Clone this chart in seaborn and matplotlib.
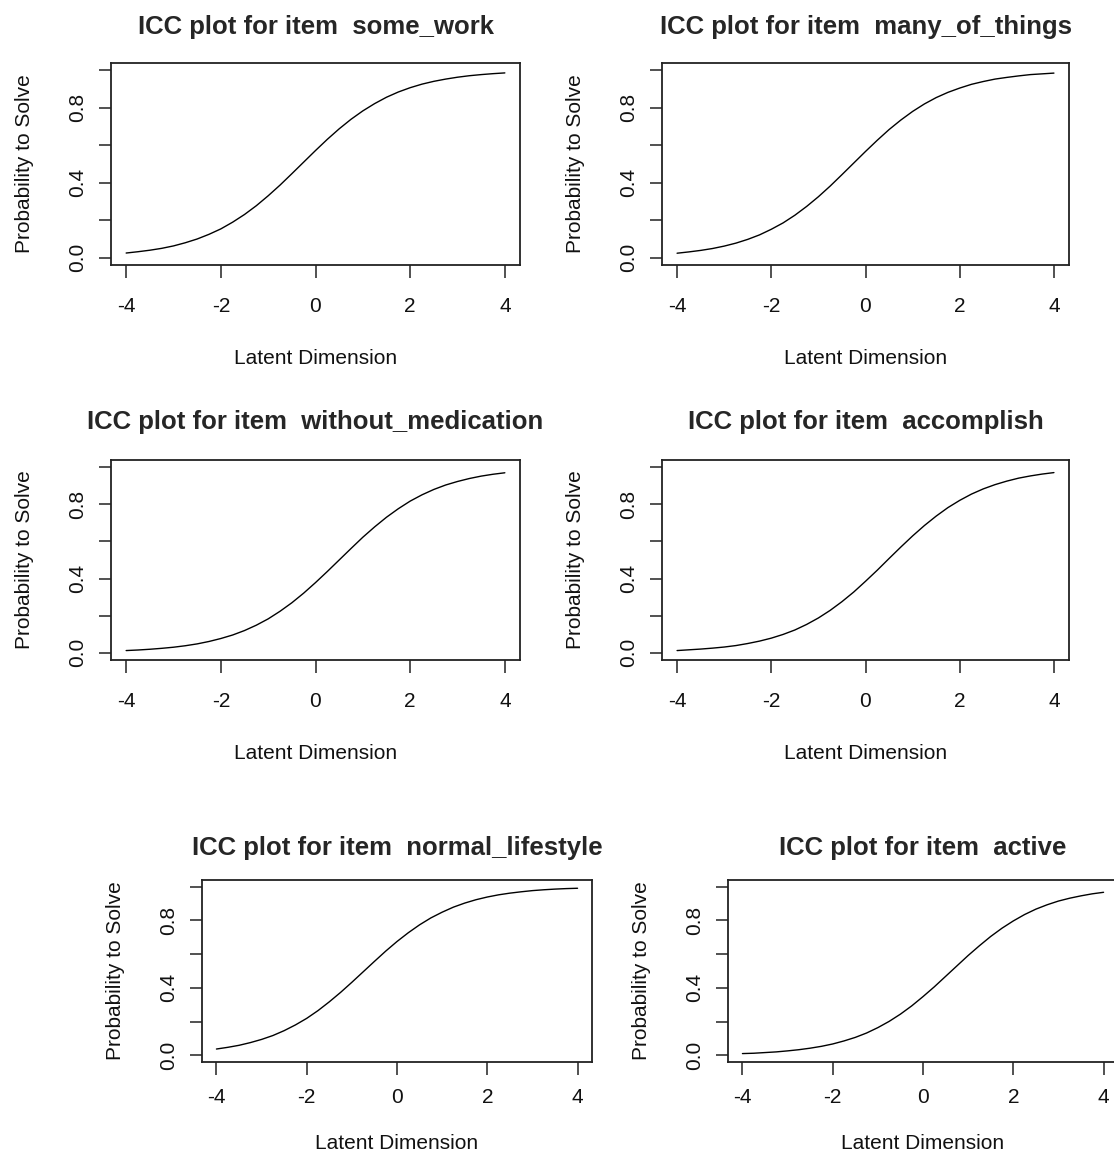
import seaborn as sns
import matplotlib.pyplot as plt

# latent dimension grid and ICC values
theta = [-4.0, -3.75, -3.5, -3.25, -3.0, -2.75, -2.5, -2.25, -2.0, -1.75, -1.5,
         -1.25, -1.0, -0.75, -0.5, -0.25, 0.0, 0.25, 0.5, 0.75, 1.0, 1.25,
         1.5, 1.75, 2.0, 2.25, 2.5, 2.75, 3.0, 3.25, 3.5, 3.75, 4.0]

some_work = [0.024, 0.031, 0.039, 0.049, 0.062, 0.079, 0.099, 0.124, 0.153,
             0.189, 0.230, 0.277, 0.330, 0.387, 0.448, 0.510, 0.572, 0.632,
             0.688, 0.739, 0.784, 0.823, 0.857, 0.885, 0.908, 0.927, 0.942,
             0.954, 0.964, 0.972, 0.978, 0.983, 0.987]
many_of_things = [0.023, 0.030, 0.038, 0.048, 0.061, 0.077, 0.097, 0.121, 0.151,
                  0.185, 0.226, 0.273, 0.325, 0.382, 0.443, 0.505, 0.567, 0.627,
                  0.684, 0.735, 0.781, 0.821, 0.855, 0.883, 0.906, 0.926, 0.941,
                  0.954, 0.963, 0.971, 0.978, 0.982, 0.986]
without_medication = [0.011, 0.014, 0.018, 0.023, 0.029, 0.037, 0.047, 0.060, 0.076,
                      0.095, 0.119, 0.148, 0.182, 0.223, 0.269, 0.321, 0.378, 0.438,
                      0.500, 0.562, 0.623, 0.679, 0.731, 0.777, 0.818, 0.852, 0.881,
                      0.905, 0.924, 0.940, 0.953, 0.963, 0.971]
accomplish = [0.011, 0.015, 0.019, 0.024, 0.030, 0.038, 0.049, 0.062, 0.078,
              0.098, 0.122, 0.152, 0.187, 0.228, 0.275, 0.327, 0.385, 0.445,
              0.508, 0.570, 0.630, 0.686, 0.737, 0.783, 0.822, 0.856, 0.884,
              0.907, 0.926, 0.942, 0.954, 0.964, 0.972]
normal_lifestyle = [0.037, 0.047, 0.059, 0.075, 0.094, 0.117, 0.146, 0.180, 0.219,
                    0.265, 0.317, 0.373, 0.433, 0.495, 0.557, 0.618, 0.675, 0.727,
                    0.774, 0.815, 0.849, 0.879, 0.903, 0.923, 0.939, 0.952, 0.962,
                    0.970, 0.977, 0.982, 0.986, 0.989, 0.991]
active = [0.010, 0.012, 0.016, 0.020, 0.026, 0.033, 0.042, 0.053, 0.067,
          0.085, 0.106, 0.132, 0.164, 0.201, 0.244, 0.293, 0.348, 0.406,
          0.468, 0.530, 0.592, 0.650, 0.705, 0.754, 0.797, 0.835, 0.867,
          0.893, 0.915, 0.932, 0.946, 0.958, 0.967]

item_names = ["some_work", "many_of_things", "without_medication",
              "accomplish", "normal_lifestyle", "active"]
item_values = [some_work, many_of_things, without_medication,
               accomplish, normal_lifestyle, active]

x_ticks = [-4, -2, 0, 2, 4]
y_ticks = [0.0, 0.2, 0.4, 0.6, 0.8, 1.0]
y_ticklabels = ["0.0", "", "0.4", "", "0.8", ""]

sns.set_style("ticks")
plt.rcParams['font.family'] = ['Liberation Sans', 'DejaVu Sans']

W, H = 1114, 1151
fig = plt.figure(figsize=(W / 100, H / 100), dpi=100)

# axes boxes in pixels: left, top, right, bottom
boxes = [(111, 63, 520, 265), (662, 63, 1069, 265),
         (111, 460, 520, 660), (662, 460, 1069, 660),
         (202, 880, 592, 1062), (728, 880, 1118, 1062)]
title_pads = [21, 21, 22, 22, 18, 18]
tick_pads = [14, 14, 14, 14, 9.5, 9.5]
xlabel_pads = [23.5, 23.5, 23.5, 23.5, 19.5, 19.5]

for i, (name, vals) in enumerate(zip(item_names, item_values)):
    l, t, r, b = boxes[i]
    ax = fig.add_axes([l / W, 1 - b / H, (r - l) / W, (b - t) / H])
    sns.lineplot(x=theta, y=vals, ax=ax, color='black', linewidth=1.0)

    ax.set_xlim(-4.32, 4.32)
    ax.set_ylim(-0.04, 1.04)
    ax.set_xticks(x_ticks)
    ax.set_xticklabels([str(v) for v in x_ticks])
    ax.set_yticks(y_ticks)
    ax.set_yticklabels(y_ticklabels)

    for s in ax.spines.values():
        s.set_visible(True)
        s.set_color('#222222')
        s.set_linewidth(1.3)

    ax.tick_params(axis='both', direction='out', length=9, width=1.1,
                   color='#222222', labelsize=15, labelcolor='#111111')
    ax.tick_params(axis='x', pad=tick_pads[i])
    ax.tick_params(axis='y', pad=8.5, labelrotation=90)
    for lab in ax.get_yticklabels():
        lab.set_va('center')

    ax.set_title(f"ICC plot for item  {name}", fontsize=18.5,
                 fontweight='bold', pad=title_pads[i])
    ax.set_xlabel("Latent Dimension", fontsize=15, labelpad=xlabel_pads[i],
                  color='#111111')
    ax.set_ylabel("Probability to Solve", fontsize=15, labelpad=24,
                  color='#111111')

fig.savefig("out.png", dpi=100, facecolor='white')
